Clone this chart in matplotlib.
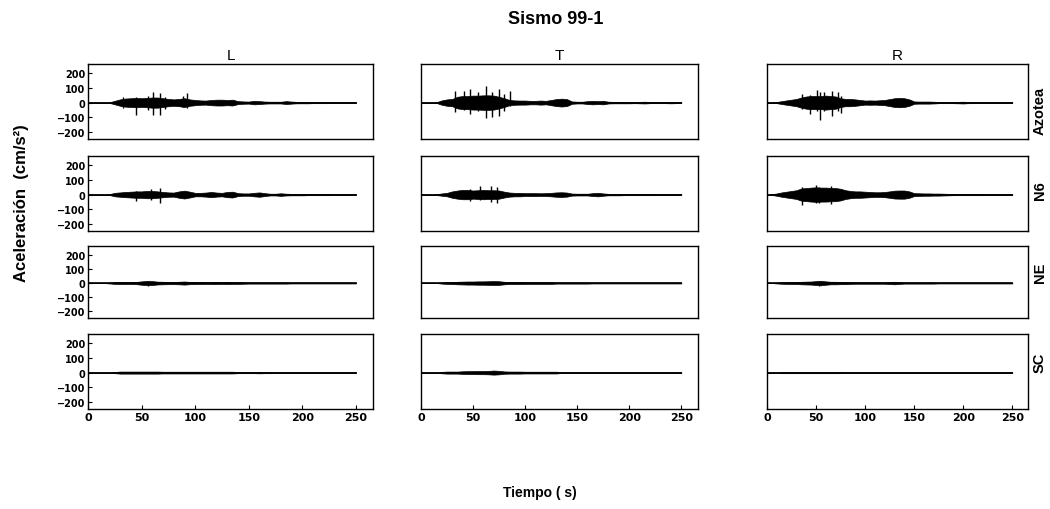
import numpy as np
import matplotlib.pyplot as plt

plt.rcParams['font.family'] = ['Liberation Sans', 'DejaVu Sans']

# sample times (s) for the amplitude envelopes
times = np.arange(0, 251, 5)

components = ['L', 'T', 'R']
stations = ['Azotea', 'N6', 'NE', 'SC']

# half-width of the dense part of each record (cm/s2), every 5 s
L_azotea = [0, 0, 0, 0, 2, 12, 22, 28, 30, 32, 30, 32, 35, 35, 30, 25, 22, 25, 30, 22,
            18, 15, 14, 18, 20, 20, 18, 20, 10, 8, 7, 12, 10, 7, 6, 6, 6, 10, 7, 5,
            5, 5, 4, 4, 4, 4, 3, 3, 3, 3, 3]
T_azotea = [0, 0, 0, 3, 15, 22, 25, 40, 45, 45, 48, 48, 50, 50, 48, 40, 30, 18, 15, 14,
            14, 12, 12, 14, 12, 18, 24, 27, 24, 8, 6, 6, 10, 12, 10, 12, 6, 5, 5, 5,
            5, 4, 5, 6, 4, 4, 4, 4, 5, 4, 3]
R_azotea = [0, 2, 4, 10, 15, 20, 25, 35, 42, 45, 45, 45, 48, 45, 42, 30, 25, 25, 22, 18,
            14, 15, 14, 16, 18, 24, 30, 32, 30, 22, 8, 7, 7, 7, 6, 4, 4, 4, 4, 5,
            6, 4, 4, 3, 3, 3, 3, 3, 3, 3, 3]
L_n6 = [0, 0, 0, 0, 3, 12, 15, 18, 20, 22, 22, 25, 25, 22, 18, 15, 14, 22, 27, 20,
        12, 12, 14, 18, 14, 12, 18, 20, 10, 8, 8, 12, 15, 10, 6, 6, 9, 6, 5, 5,
        5, 4, 4, 4, 4, 4, 3, 3, 3, 3, 3]
T_n6 = [0, 0, 0, 3, 8, 12, 22, 28, 32, 32, 28, 30, 32, 30, 30, 28, 20, 14, 12, 12,
        10, 10, 10, 9, 10, 12, 15, 16, 14, 7, 6, 6, 6, 10, 12, 8, 5, 5, 5, 4,
        4, 4, 4, 4, 4, 4, 3, 3, 3, 3, 3]
R_n6 = [0, 3, 8, 15, 20, 25, 30, 42, 45, 48, 50, 48, 48, 46, 45, 40, 30, 25, 22, 22,
        20, 18, 16, 16, 18, 22, 27, 28, 28, 22, 10, 9, 8, 8, 7, 7, 6, 5, 4, 4,
        4, 4, 4, 4, 4, 3, 3, 3, 3, 3, 3]
L_ne = [0, 0, 0, 0, 3, 6, 7, 7, 7, 8, 12, 15, 14, 10, 9, 8, 8, 9, 11, 8,
        7, 7, 6, 7, 7, 6, 7, 6, 6, 5, 4, 4, 4, 4, 4, 4, 4, 4, 3, 3,
        3, 3, 3, 3, 3, 3, 3, 3, 3, 3, 3]
T_ne = [0, 0, 0, 0, 4, 6, 7, 9, 10, 11, 11, 12, 12, 13, 14, 13, 9, 7, 7, 7,
        6, 6, 6, 6, 6, 6, 4, 4, 4, 4, 4, 4, 4, 3, 3, 3, 3, 3, 3, 3,
        3, 3, 3, 3, 3, 3, 3, 3, 3, 3, 3]
R_ne = [0, 0, 3, 5, 6, 7, 7, 9, 10, 11, 14, 16, 12, 9, 9, 8, 8, 6, 5, 5,
        5, 5, 5, 5, 5, 7, 9, 6, 4, 4, 4, 4, 4, 4, 4, 3, 3, 3, 3, 3,
        3, 3, 3, 3, 3, 3, 3, 3, 3, 3, 3]
L_sc = [0, 0, 0, 0, 0, 4, 7, 7, 7, 7, 7, 7, 7, 7, 6, 6, 6, 6, 6, 6,
        6, 6, 6, 6, 6, 6, 6, 6, 4, 4, 4, 4, 5, 4, 4, 3, 3, 3, 3, 3,
        3, 3, 3, 3, 3, 3, 3, 3, 3, 3, 3]
T_sc = [0, 0, 0, 0, 5, 7, 7, 7, 9, 10, 10, 11, 11, 12, 14, 12, 8, 7, 7, 7,
        6, 6, 6, 6, 6, 6, 6, 3, 3, 3, 3, 3, 3, 3, 3, 3, 3, 3, 3, 3,
        3, 3, 3, 3, 3, 3, 3, 3, 3, 3, 3]
R_sc = [0, 0, 0, 4, 4, 4, 4, 4, 4, 4, 4, 4, 4, 4, 4, 4, 3, 3, 3, 3,
        3, 3, 3, 3, 3, 3, 3, 3, 3, 3, 3, 3, 3, 3, 3, 3, 3, 3, 3, 3,
        3, 3, 3, 3, 3, 3, 3, 3, 3, 3, 3]

# isolated peaks: (time s, max, min)
L_azotea_peaks = [(33, 35, -35), (45, 35, -84), (56, 45, -50), (61, 75, -88),
                  (67, 63, -84), (72, 40, -45), (89, 45, -30), (92, 63, -40)]
T_azotea_peaks = [(33, 80, -68), (41, 80, -50), (47, 90, -80), (55, 75, -60),
                  (62, 114, -109), (68, 70, -100), (75, 90, -90), (80, 60, -60),
                  (85, 80, -25)]
R_azotea_peaks = [(36, 57, -45), (44, 50, -80), (51, 84, -60), (54, 70, -118),
                  (58, 75, -55), (66, 80, -90), (72, 70, -60), (75, 45, -70)]
L_n6_peaks = [(45, 25, -45), (59, 35, -35), (67, 45, -57)]
T_n6_peaks = [(47, 40, -45), (57, 57, -40), (67, 57, -50), (73, 55, -57)]
R_n6_peaks = [(36, 55, -73), (50, 68, -55), (53, 55, -60), (65, 60, -68)]
L_ne_peaks = [(56, 18, -18)]
R_ne_peaks = [(53, 18, -18)]

envelopes = [[L_azotea, T_azotea, R_azotea],
             [L_n6, T_n6, R_n6],
             [L_ne, T_ne, R_ne],
             [L_sc, T_sc, R_sc]]
peaks = [[L_azotea_peaks, T_azotea_peaks, R_azotea_peaks],
         [L_n6_peaks, T_n6_peaks, R_n6_peaks],
         [L_ne_peaks, [], R_ne_peaks],
         [[], [], []]]

W, H = 1050, 510
fig = plt.figure(figsize=(W / 100, H / 100), dpi=100)

# panel placement in pixels: (left, width) per column, (top, height) per row
col_px = [(88, 285), (421, 277), (767, 261)]
row_px = [(65, 75), (157, 75), (247, 72), (335, 75)]
label_y = [111, 191, 273, 363]

for r, station in enumerate(stations):
    for c, comp in enumerate(components):
        left, width = col_px[c]
        top, height = row_px[r]
        ax = fig.add_axes([left / W, 1 - (top + height) / H, width / W, height / H])
        env = np.array(envelopes[r][c])
        ax.fill_between(times, -env, env, color='k', lw=0.5)
        ax.plot(times, np.zeros(len(times)), color='k', lw=1.2)
        if peaks[r][c]:
            pt, ph, pl = zip(*peaks[r][c])
            ax.vlines(pt, pl, ph, color='k', lw=1.0)
        ax.set_xlim(0, 266)
        ax.set_ylim(-250, 265)
        for s in ax.spines.values():
            s.set_linewidth(1.0)
        ax.tick_params(direction='in', length=3, width=0.8, pad=2)
        if c == 0:
            ax.set_yticks([-200, -100, 0, 100, 200])
            ax.set_yticklabels(['−200', '−100', '0', '100', '200'],
                               fontsize=7, fontweight='bold', family='DejaVu Sans')
        else:
            ax.set_yticks([])
        if r == len(stations) - 1:
            ax.set_xticks([0, 50, 100, 150, 200, 250])
            ax.set_xticklabels(['0', '50', '100', '150', '200', '250'],
                               fontsize=8, fontweight='bold', family='DejaVu Sans')
        else:
            ax.set_xticks([])
        if r == 0:
            ax.text(0.5, 1.12, comp, transform=ax.transAxes, ha='center',
                    va='center', fontsize=11)
    fig.text(1040 / W, 1 - label_y[r] / H, station, rotation=90, ha='center',
             va='center', fontsize=10.5, fontweight='bold')

fig.text(556 / W, 1 - 20 / H, 'Sismo 99-1', ha='center', va='center',
         fontsize=13, fontweight='bold')
fig.text(22 / W, 1 - 203 / H, 'Aceleración  (cm/s²)', rotation=90,
         ha='center', va='center', fontsize=12, fontweight='bold')
fig.text(540 / W, 1 - 493 / H, 'Tiempo ( s)', ha='center', va='center',
         fontsize=10, fontweight='bold')

fig.savefig('out.png', dpi=100)
